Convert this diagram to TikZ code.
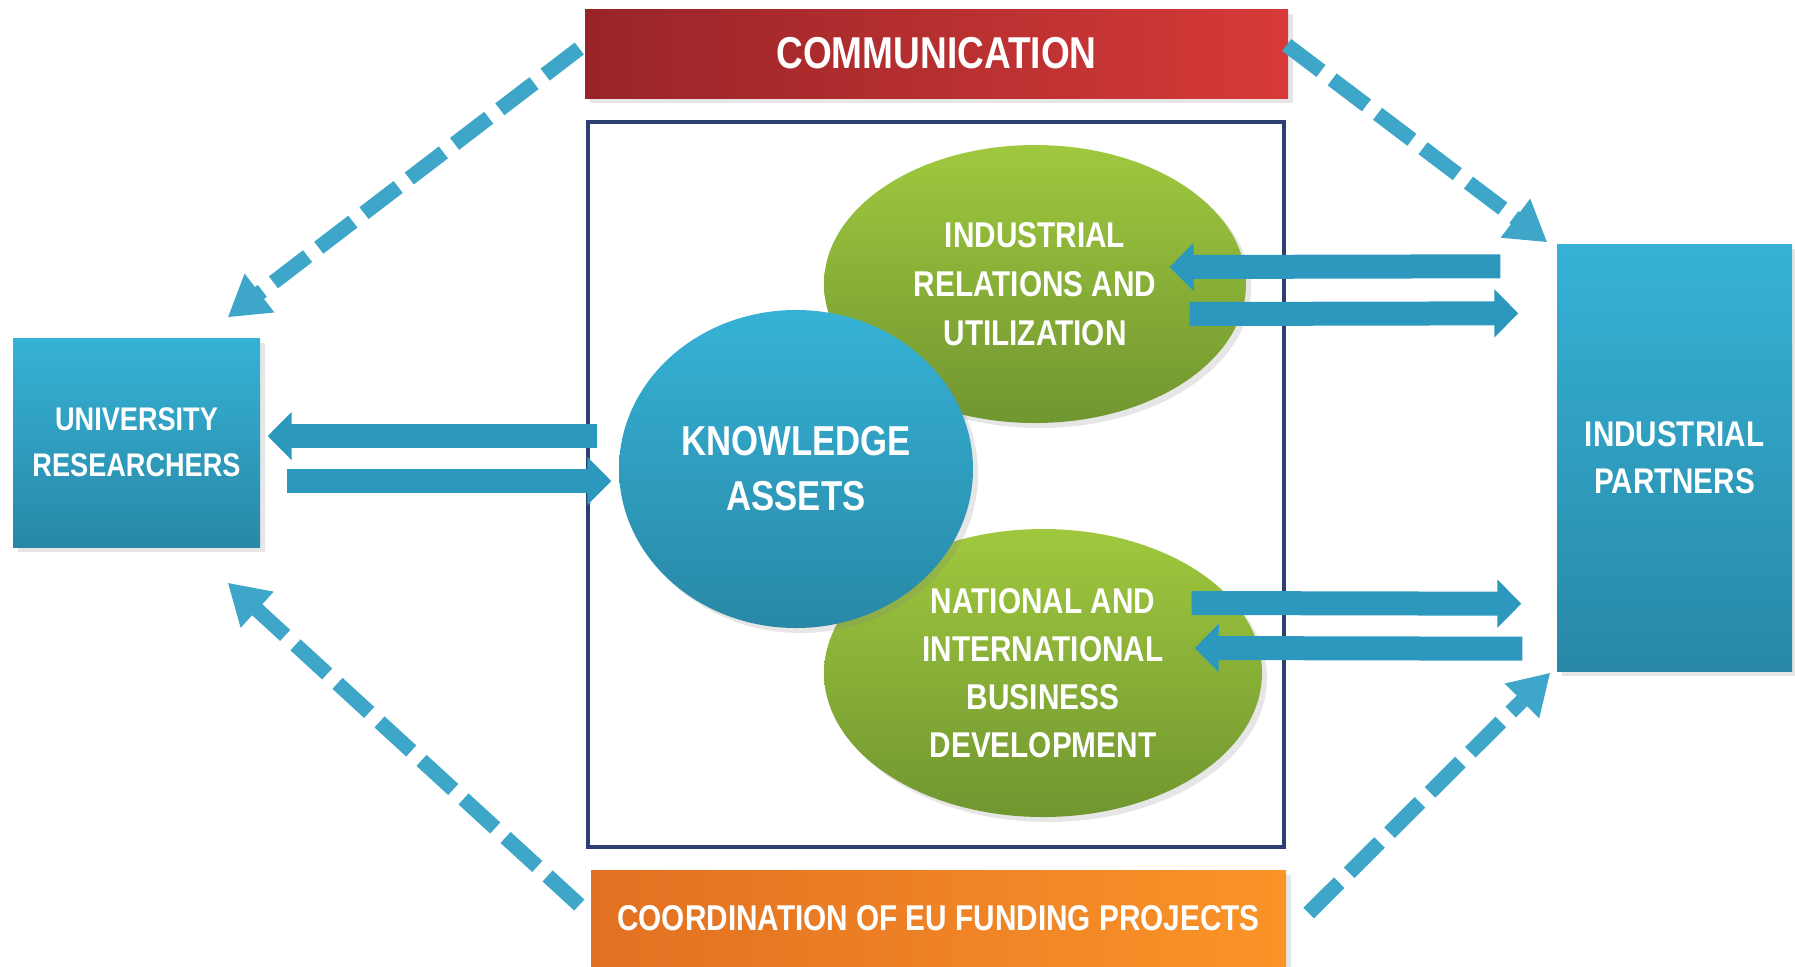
\documentclass[tikz,border=0pt]{standalone}
\usepackage{fontspec}
\newfontfamily\narrowsf{Liberation Sans}[FakeStretch=0.83]
\usetikzlibrary{arrows.meta,shapes.geometric,shadows}

\definecolor{commA}{RGB}{152,36,40}
\definecolor{commB}{RGB}{214,58,56}
\definecolor{coordA}{RGB}{226,112,34}
\definecolor{coordB}{RGB}{250,148,40}
\definecolor{blueA}{RGB}{54,178,214}
\definecolor{blueB}{RGB}{40,136,166}
\definecolor{greenA}{RGB}{160,200,62}
\definecolor{greenB}{RGB}{112,150,48}
\definecolor{arrowblue}{RGB}{44,152,190}
\definecolor{dashblue}{RGB}{62,166,200}
\definecolor{framenavy}{RGB}{44,64,112}

\newcommand{\boxfont}[2]{\narrowsf\bfseries\fontsize{#1}{#2}\selectfont}

\begin{document}
\begin{tikzpicture}[
        boxtext/.style={text=white, align=center, inner sep=0pt},
        softshadow/.style={drop shadow={shadow xshift=0.5mm, shadow yshift=-0.5mm, opacity=0.2}},
        bluebox/.style={rectangle, top color=blueA, bottom color=blueB, boxtext, softshadow},
        greenblob/.style={ellipse, top color=greenA, bottom color=greenB, boxtext, softshadow},
        blockarrow/.style={draw=arrowblue, line width=0.24cm, -{Triangle[width=0.47cm, length=0.24cm]}},
        dasharrow/.style={draw=dashblue, line width=0.15cm, dash pattern=on 0.43cm off 0.14cm, -{Triangle[width=0.46cm, length=0.40cm]}}
    ]
        \useasboundingbox (0,0) rectangle (17.95,-9.66);

        % Frame
        \node[draw=framenavy, line width=0.9pt, minimum width=6.96cm, minimum height=7.25cm, inner sep=0pt] (frame) at (9.36,-4.845) {};

        % Top and bottom bars
        \node[rectangle, left color=commA, right color=commB, boxtext, softshadow, minimum width=7.03cm, minimum height=0.89cm, font={\boxfont{12.7}{15}}] (comm) at (9.365,-0.535) {COMMUNICATION};
        \node[rectangle, left color=coordA, right color=coordB, boxtext, softshadow, minimum width=6.95cm, minimum height=0.96cm, font={\boxfont{10.2}{13}}] (coord) at (9.385,-9.18) {COORDINATION OF EU FUNDING PROJECTS};

        % Side boxes
        \node[bluebox, minimum width=2.47cm, minimum height=2.09cm, font={\boxfont{9.3}{13}}] (univ) at (1.365,-4.425) {UNIVERSITY\\RESEARCHERS};
        \node[bluebox, minimum width=2.35cm, minimum height=4.27cm, font={\boxfont{10.15}{13.4}}] (indus) at (16.745,-4.575) {INDUSTRIAL\\PARTNERS};

        % Ellipses
        \node[greenblob, minimum width=4.22cm, minimum height=2.78cm, font={\boxfont{10.2}{13.85}}] (indrel) at (10.35,-2.84) {INDUSTRIAL\\RELATIONS AND\\UTILIZATION};
        \node[greenblob, minimum width=4.38cm, minimum height=2.88cm, font={\boxfont{10.2}{13.65}}] (natbus) at (10.43,-6.73) {NATIONAL AND\\INTERNATIONAL\\BUSINESS\\DEVELOPMENT};
        \node[ellipse, top color=blueA, bottom color=blueB, boxtext, softshadow, minimum width=3.54cm, minimum height=3.18cm, font={\boxfont{11.9}{15.6}}] (know) at (7.96,-4.69) {KNOWLEDGE\\ASSETS};

        % Block arrows
        \draw[blockarrow] ([shift={(-0.21,0.33)}]know.west) -- ([shift={(0.07,0.065)}]univ.east);
        \draw[blockarrow] ([shift={(0.26,-0.385)}]univ.east) -- ([shift={(-0.07,-0.12)}]know.west);
        \draw[blockarrow] ([shift={(-0.56,-0.23)}]indus.north west) -- ([shift={(-0.77,0.17)}]indrel.east);
        \draw[blockarrow] ([shift={(-0.57,-0.30)}]indrel.east) -- ([shift={(-0.38,-0.70)}]indus.north west);
        \draw[blockarrow] ([shift={(-0.71,0.70)}]natbus.east) -- ([shift={(-0.35,0.68)}]indus.south west);
        \draw[blockarrow] ([shift={(-0.34,0.23)}]indus.south west) -- ([shift={(-0.68,0.25)}]natbus.east);

        % Dashed arrows
        \draw[dasharrow] ([shift={(-0.05,0.05)}]comm.west) -- ([shift={(-0.33,0.20)}]univ.north east);
        \draw[dasharrow] ([shift={(-0.02,0.085)}]comm.east) -- ([shift={(-0.09,0.01)}]indus.north west);
        \draw[dasharrow] ([shift={(-0.11,0.13)}]coord.west) -- ([shift={(-0.33,-0.35)}]univ.south east);
        \draw[dasharrow] ([shift={(0.22,0.05)}]coord.east) -- ([shift={(-0.06,-0.01)}]indus.south west);

    \end{tikzpicture}
\end{document}
